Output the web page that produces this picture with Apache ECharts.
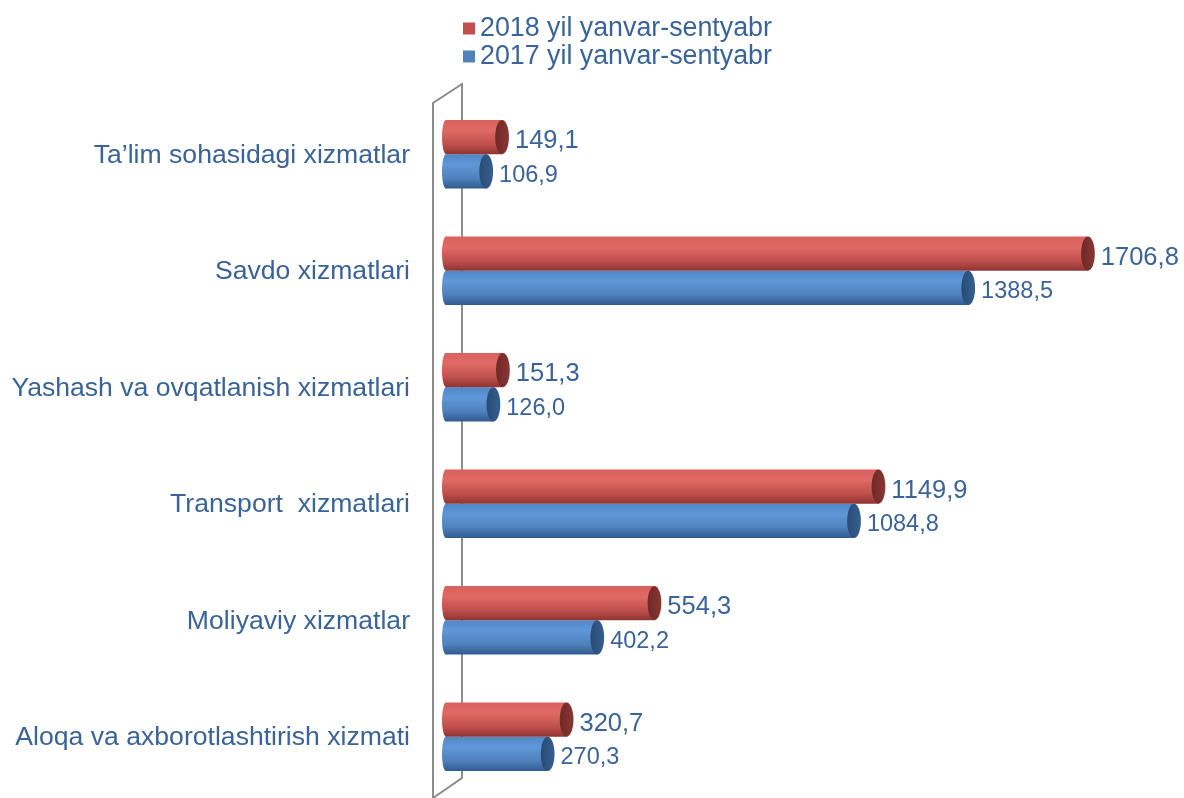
<!DOCTYPE html>
<html>
<head>
<meta charset="utf-8">
<script src="https://cdn.jsdelivr.net/npm/echarts@6/dist/echarts.min.js"></script>
<style>
html,body{margin:0;padding:0;background:#fff;}
#main{width:1184px;height:798px;}
</style>
</head>
<body>
<div id="main"></div>
<script>
var categories = [
  'Ta\u2019lim sohasidagi xizmatlar',
  'Savdo xizmatlari',
  'Yashash va ovqatlanish xizmatlari',
  'Transport  xizmatlari',
  'Moliyaviy xizmatlar',
  'Aloqa va axborotlashtirish xizmati'
];
var values2018 = [149.1, 1706.8, 151.3, 1149.9, 554.3, 320.7];
var values2017 = [106.9, 1388.5, 126.0, 1084.8, 402.2, 270.3];
var seriesNames = ['2018 yil yanvar-sentyabr', '2017 yil yanvar-sentyabr'];

var txtColor = '#3a639a';
var fontFam = '"Liberation Sans", Arial, sans-serif';
var gridLeft = 446, gridTop = 97, gridBottom = 2;

var palettes = [
  { base: '#c0504d', top: '#d9605c', mid: '#e06a66', bot: '#8f3432', cap: '#8b3634', capDark: '#6e2826', fs: 25.5 },
  { base: '#4f81bd', top: '#4f86c6', mid: '#5f97d8', bot: '#2f5a8e', cap: '#355f91', capDark: '#284b75', fs: 23.5 }
];

function fmt(v) { return v.toFixed(1).replace('.', ','); }

function bodyGrad(p) {
  return new echarts.graphic.LinearGradient(0, 0, 0, 1, [
    { offset: 0, color: p.top },
    { offset: 0.3, color: p.mid },
    { offset: 0.7, color: p.base },
    { offset: 1, color: p.bot }
  ]);
}

function makeRender(si) {
  var p = palettes[si];
  return function (params, api) {
    var v = api.value(0), c = api.value(1);
    var p0 = api.coord([0, c]);
    var p1 = api.coord([v, c]);
    var band = api.size([0, 1])[1];
    var h = band * 0.295;
    var y = si === 0 ? p0[1] - h - 1 : p0[1] - 1;
    var cy = y + h / 2;
    var rx = h * 0.2;
    var g = bodyGrad(p);
    return {
      type: 'group',
      children: [
        { type: 'ellipse', shape: { cx: p0[0], cy: cy, rx: 4, ry: h / 2 }, style: { fill: g } },
        { type: 'rect', shape: { x: p0[0], y: y, width: p1[0] - p0[0], height: h }, style: { fill: g } },
        { type: 'ellipse', shape: { cx: p1[0], cy: cy, rx: rx, ry: h / 2 },
          style: { fill: new echarts.graphic.LinearGradient(0, 0, 1, 0, [
            { offset: 0, color: p.capDark }, { offset: 1, color: p.cap }]) } },
        { type: 'text', style: { x: p1[0] + rx + 6, y: cy + 4, text: fmt(v),
          fill: txtColor, font: p.fs + 'px ' + fontFam,
          textVerticalAlign: 'middle', textAlign: 'left' } }
      ]
    };
  };
}

function toData(arr) {
  return arr.map(function (v, i) { return [v, i]; });
}

var chart = echarts.init(document.getElementById('main'));
var option = {
  backgroundColor: '#fff',
  animation: false,
  legend: {
    orient: 'vertical',
    left: 458, top: 10,
    itemWidth: 12, itemHeight: 12, itemGap: 1,
    icon: 'rect',
    data: seriesNames,
    textStyle: { fontSize: 26.8, color: txtColor, fontFamily: fontFam, padding: [0, 0, 0, 0] }
  },
  grid: { left: gridLeft, right: 61, top: gridTop, bottom: gridBottom },
  xAxis: { type: 'value', min: 0, max: 1800, show: false, splitLine: { show: false } },
  yAxis: {
    type: 'category', data: categories, inverse: true,
    axisLine: { show: false }, axisTick: { show: false },
    axisLabel: { fontSize: 26.6, color: txtColor, margin: 36, fontFamily: fontFam }
  },
  graphic: [
    { type: 'polyline', z: 0, shape: { points: [[433, 798], [433, 103], [462, 84], [462, 778], [433, 798]] },
      style: { stroke: '#8c8c8c', lineWidth: 2, fill: null } }
  ],
  series: [
    { name: seriesNames[0], type: 'custom', renderItem: makeRender(0), data: toData(values2018),
      itemStyle: { color: palettes[0].base }, encode: { x: 0, y: 1 }, z: 3 },
    { name: seriesNames[1], type: 'custom', renderItem: makeRender(1), data: toData(values2017),
      itemStyle: { color: palettes[1].base }, encode: { x: 0, y: 1 }, z: 2 }
  ]
};
chart.setOption(option);
</script>
</body>
</html>
